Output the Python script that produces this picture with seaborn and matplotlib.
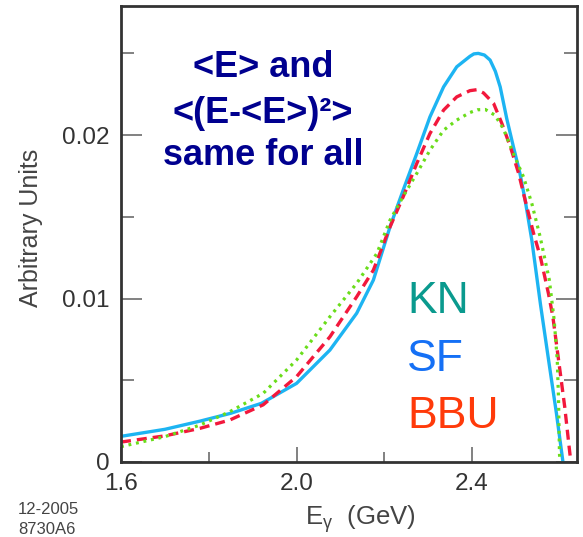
import numpy as np
import pandas as pd
import matplotlib
matplotlib.use("Agg")
import matplotlib.pyplot as plt
import seaborn as sns

# ---- data ----
E_SF = [1.60, 1.70, 1.78, 1.85, 1.92, 2.00, 2.076, 2.137, 2.175, 2.213, 2.243, 2.274,
        2.304, 2.335, 2.365, 2.395, 2.404, 2.414, 2.428, 2.441, 2.453, 2.464, 2.479,
        2.494, 2.509, 2.521, 2.536, 2.556, 2.575, 2.592, 2.607]
SF = [0.00157, 0.00200, 0.00250, 0.00298, 0.00359, 0.00481, 0.00685, 0.0091, 0.01113,
      0.01439, 0.01664, 0.01888, 0.02112, 0.02295, 0.02418, 0.02482, 0.02497, 0.0250,
      0.02490, 0.02459, 0.0239, 0.02295, 0.0210, 0.0193, 0.01766, 0.0160, 0.01358,
      0.0096, 0.0061, 0.0030, 0.0]

E_BBU = [1.60, 1.70, 1.78, 1.848, 1.924, 2.00, 2.076, 2.137, 2.175, 2.213, 2.243, 2.274,
         2.304, 2.335, 2.365, 2.395, 2.411, 2.426, 2.449, 2.468, 2.487, 2.506, 2.521,
         2.540, 2.556, 2.574, 2.584, 2.599, 2.611, 2.621, 2.625]
BBU = [0.00122, 0.00160, 0.00206, 0.00257, 0.0035, 0.00522, 0.00766, 0.01011, 0.01174,
       0.01439, 0.01623, 0.01827, 0.0201, 0.02153, 0.02234, 0.02272, 0.02278, 0.02258,
       0.02194, 0.0207, 0.0193, 0.01766, 0.0160, 0.0140, 0.0125, 0.0103, 0.00889,
       0.00583, 0.00338, 0.00094, 0.0]

E_KN = [1.60, 1.70, 1.78, 1.848, 1.924, 2.00, 2.076, 2.137, 2.183, 2.213, 2.243, 2.274,
        2.304, 2.335, 2.365, 2.395, 2.412, 2.430, 2.452, 2.471, 2.494, 2.517, 2.536, 2.555,
        2.576, 2.587, 2.594, 2.597, 2.599, 2.600]
KN = [0.00094, 0.00155, 0.00226, 0.00308, 0.0042, 0.00624, 0.00889, 0.01093, 0.01276,
      0.0148, 0.01625, 0.01766, 0.01908, 0.0203, 0.02092, 0.02138, 0.02155, 0.02157,
      0.02122, 0.0204, 0.01888, 0.01745, 0.01582, 0.01378, 0.01113, 0.00869, 0.00624,
      0.00379, 0.00055, 0.0]

x_major = [1.6, 2.0, 2.4]
x_minor = [1.8, 2.2]
y_major = [0.0, 0.01, 0.02]
y_major_labels = ["0", "0.01", "0.02"]
y_minor = [0.005, 0.015, 0.025]

note_lines = ["<E> and", "<(E-<E>)²>", "same for all"]
series_labels = ["KN", "SF", "BBU"]
stamp_lines = ["12-2005", "8730A6"]

# ---- style ----
sns.set_theme(style="white")
plt.rcParams["font.family"] = ["Liberation Sans", "DejaVu Sans"]
plt.rcParams["mathtext.fontset"] = "custom"
plt.rcParams["mathtext.rm"] = "Liberation Sans"
plt.rcParams["mathtext.it"] = "Liberation Sans"

W, H = 583, 537
fig = plt.figure(figsize=(W / 100, H / 100), dpi=100)
ax = fig.add_axes([121 / W, 1 - 462 / H, (577 - 121) / W, (462 - 6) / H])

c_sf = "#1DB4F2"
c_bbu = "#F2183C"
c_kn = "#6ADD1A"

sns.lineplot(x=E_SF, y=SF, ax=ax, color=c_sf, linewidth=2.4, estimator=None, sort=False)
sns.lineplot(x=E_BBU, y=BBU, ax=ax, color=c_bbu, linewidth=2.4, estimator=None, sort=False,
             linestyle=(0, (3.0, 1.8)))
sns.lineplot(x=E_KN, y=KN, ax=ax, color=c_kn, linewidth=2.3, estimator=None, sort=False,
             linestyle=(0, (0.9, 1.5)))

ax.set_xlim(1.6, 2.639)
ax.set_ylim(0, 0.0279)

ax.set_xticks(x_major)
ax.set_xticklabels([f"{v:.1f}" for v in x_major])
ax.set_xticks(x_minor, minor=True)
ax.set_yticks(y_major)
ax.set_yticklabels(y_major_labels)
ax.set_yticks(y_minor, minor=True)

ax.tick_params(axis="both", which="both", direction="in", color="#777777", labelcolor="#333333",
               labelsize=17.5, pad=8)
ax.tick_params(axis="y", which="major", length=15, width=1.3, left=True, right=True)
ax.tick_params(axis="y", which="minor", length=9.5, width=1.3, left=True, right=True)
ax.tick_params(axis="x", which="major", length=11, width=1.3, bottom=True, top=False)
ax.tick_params(axis="x", which="minor", length=7.5, width=1.3, bottom=True, top=False)

for s in ax.spines.values():
    s.set_color("#333333")
    s.set_linewidth(2.0)
    s.set_visible(True)

ax.set_ylabel("Arbitrary Units", fontsize=18, color="#444444")
ax.yaxis.set_label_coords(-(121 - 43) / (577 - 121), 0.5 + ((462 + 6) / 2 - 228) / (462 - 6))
ax.set_xlabel(r"E$_{\mathrm{\gamma}}$  (GeV)", fontsize=18.5, color="#444444")
ax.xaxis.set_label_coords((360 - 121) / (577 - 121), -(503 - 462) / (462 - 6))

# annotation block
note_base_y = [76.7, 122.7, 165.0]
for txt, yb in zip(note_lines, note_base_y):
    fig.text(263 / W, 1 - yb / H, txt, ha="center", va="baseline", fontsize=26,
             fontweight="bold", color="#00008F")

label_colors = ["#0A9A8E", "#1570F5", "#FF3A0A"]
label_base_y = [313.3, 370.7, 427.5]
for txt, col, yb in zip(series_labels, label_colors, label_base_y):
    fig.text(407 / W, 1 - yb / H, txt, ha="left", va="baseline", fontsize=32, color=col)

stamp_base_y = [514.5, 534.5]
for txt, yb in zip(stamp_lines, stamp_base_y):
    fig.text(18 / W, 1 - yb / H, txt, ha="left", va="baseline", fontsize=12, color="#444444")

fig.savefig("out.png", dpi=100)
